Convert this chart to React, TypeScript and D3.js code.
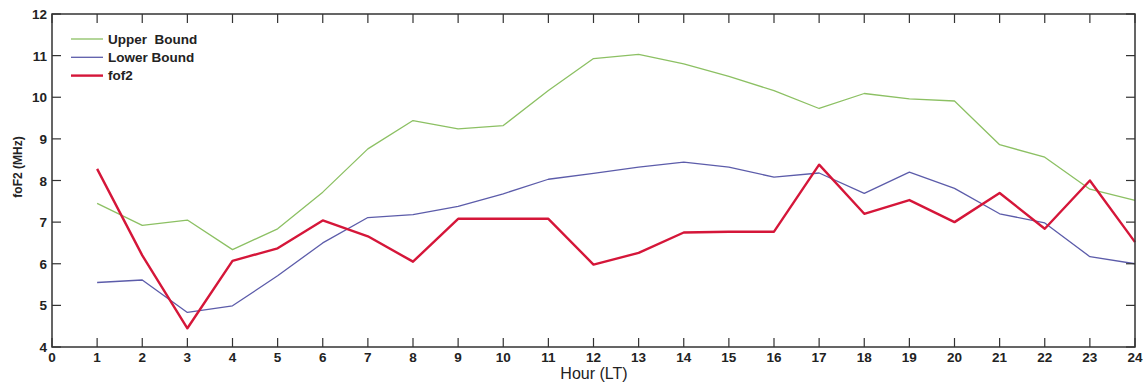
import * as d3 from 'd3';
import { useEffect, useRef } from 'react';

const hours = [1, 2, 3, 4, 5, 6, 7, 8, 9, 10, 11, 12, 13, 14, 15, 16, 17, 18, 19, 20, 21, 22, 23, 24];
const upperBound = [7.45, 6.92, 7.05, 6.34, 6.84, 7.72, 8.76, 9.44, 9.24, 9.32, 10.16, 10.93, 11.03, 10.8, 10.5, 10.16, 9.73, 10.09, 9.96, 9.91, 8.86, 8.56, 7.79, 7.52];
const lowerBound = [5.55, 5.61, 4.83, 4.99, 5.71, 6.5, 7.11, 7.18, 7.38, 7.68, 8.03, 8.17, 8.32, 8.44, 8.32, 8.08, 8.18, 7.69, 8.2, 7.81, 7.2, 6.98, 6.17, 6.0];
const fof2 = [8.28, 6.2, 4.45, 6.07, 6.37, 7.04, 6.66, 6.05, 7.08, 7.08, 7.08, 5.98, 6.26, 6.75, 6.77, 6.77, 8.38, 7.2, 7.53, 7.0, 7.7, 6.84, 8.0, 6.52];
const xTicks = d3.range(0, 25);
const yTicks = [4, 5, 6, 7, 8, 9, 10, 11, 12];

const series = [
  { name: 'Upper  Bound', values: upperBound, color: '#8cc063', width: 1.3 },
  { name: 'Lower Bound', values: lowerBound, color: '#5c5caa', width: 1.3 },
  { name: 'fof2', values: fof2, color: '#d51639', width: 2.4 },
];

export default function App() {
  const w = 1143;
  const h = 385;
  const svgRef = useRef<SVGSVGElement>(null);

  useEffect(() => {
    if (svgRef.current == null) {
      return;
    }
    const left = 52;
    const right = 1135;
    const top = 14;
    const bottom = 347;
    const tickLen = 9;

    const svg = d3.select(svgRef.current).select('#change');
    svg.selectAll('*').remove();

    const xScale = d3.scaleLinear().domain([0, 24]).range([left, right]);
    const yScale = d3.scaleLinear().domain([4, 12]).range([bottom, top]);

    const axisColor = '#333';
    const font = 'Liberation Sans, Arial, sans-serif';

    // series lines
    const line = d3
      .line<number>()
      .x((_, i) => xScale(hours[i]))
      .y((d) => yScale(d));
    series.forEach((s) => {
      svg
        .append('path')
        .attr('d', line(s.values))
        .attr('fill', 'none')
        .attr('stroke', s.color)
        .attr('stroke-width', s.width)
        .attr('stroke-linejoin', 'round');
    });

    // box
    svg
      .append('rect')
      .attr('x', left)
      .attr('y', top)
      .attr('width', right - left)
      .attr('height', bottom - top)
      .attr('fill', 'none')
      .attr('stroke', axisColor)
      .attr('stroke-width', 1.5);

    // x ticks (bottom and top, inward)
    xTicks.forEach((t) => {
      const x = xScale(t);
      svg.append('line').attr('x1', x).attr('x2', x).attr('y1', bottom).attr('y2', bottom - tickLen).attr('stroke', axisColor).attr('stroke-width', 1.2);
      svg.append('line').attr('x1', x).attr('x2', x).attr('y1', top).attr('y2', top + tickLen).attr('stroke', axisColor).attr('stroke-width', 1.2);
      svg
        .append('text')
        .attr('x', x)
        .attr('y', bottom + 15)
        .attr('text-anchor', 'middle')
        .attr('font-family', font)
        .attr('font-size', 13.5)
        .attr('font-weight', 'bold')
        .attr('fill', '#222')
        .text(t);
    });

    // y ticks (left and right, inward)
    yTicks.forEach((t) => {
      const y = yScale(t);
      svg.append('line').attr('x1', left).attr('x2', left + tickLen).attr('y1', y).attr('y2', y).attr('stroke', axisColor).attr('stroke-width', 1.2);
      svg.append('line').attr('x1', right).attr('x2', right - tickLen).attr('y1', y).attr('y2', y).attr('stroke', axisColor).attr('stroke-width', 1.2);
      svg
        .append('text')
        .attr('x', left - 5)
        .attr('y', y + 5)
        .attr('text-anchor', 'end')
        .attr('font-family', font)
        .attr('font-size', 13.5)
        .attr('font-weight', 'bold')
        .attr('fill', '#222')
        .text(t);
    });

    // axis labels
    svg
      .append('text')
      .attr('x', 594)
      .attr('y', 379)
      .attr('text-anchor', 'middle')
      .attr('font-family', font)
      .attr('font-size', 16)
      .attr('fill', '#222')
      .text('Hour (LT)');
    svg
      .append('text')
      .attr('transform', `translate(22, 167) rotate(-90)`)
      .attr('text-anchor', 'middle')
      .attr('font-family', font)
      .attr('font-size', 12)
      .attr('font-weight', 'bold')
      .attr('fill', '#222')
      .text('foF2 (MHz)');

    // legend
    series.forEach((s, i) => {
      const y = 39 + i * 18.3;
      svg.append('line').attr('x1', 71).attr('x2', 103).attr('y1', y).attr('y2', y).attr('stroke', s.color).attr('stroke-width', s.width);
      svg
        .append('text')
        .attr('x', 108)
        .attr('y', y + 4.5)
        .attr('font-family', font)
        .attr('font-size', 13.5)
        .attr('font-weight', 'bold')
        .attr('fill', '#222')
        .style('white-space', 'pre')
        .text(s.name);
    });
  }, []);

  return (
    <svg ref={svgRef} width={w} height={h} style={{ position: 'absolute', left: 0, top: 0, background: '#fff' }}>
      <g id='change'></g>
    </svg>
  );
}
